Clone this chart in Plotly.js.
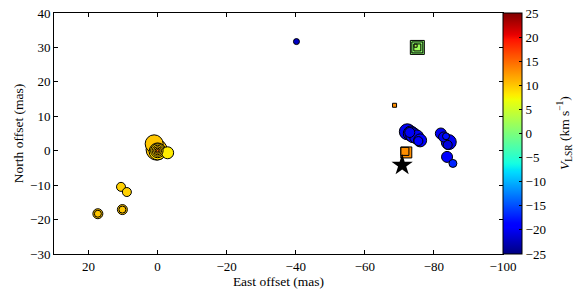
<!DOCTYPE html>
<html><head><meta charset="utf-8">
<script src="https://cdn.plot.ly/plotly-3.0.1.min.js"></script>
<style>html,body{margin:0;padding:0;background:#fff}#plot{width:577px;height:295px}</style>
</head><body><div id="plot"></div>
<script>
// Circle spots: east offset, north offset (mas), velocity (km/s), marker size
const circX = [1.0, 0.3, 0.0, 0.0, 0.0, 0.0, 0.0, -2.9,
  10.6, 8.9, 10.2, 10.2, 17.3, 17.3,
  -72.3, -73.3, -74.0, -75.0, -76.0, -73.0, -75.5,
  -84.3, -82.0, -82.8, -83.8, -84.0, -85.5, -83.5,
  -40.2, 0.0];
const circY = [2.0, 0.3, -0.2, 0.0, 0.0, 0.0, 0.0, -0.6,
  -10.5, -12.0, -17.1, -17.1, -18.3, -18.3,
  5.5, 5.0, 4.5, 4.0, 3.0, 5.3, 2.8,
  2.5, 5.0, 4.0, -1.8, 1.7, -3.7, 4.2,
  31.7, 0.0];
const circV = [10, 10, 9, 9, 10, 10, 11, 8,
  9.5, 9.5, 10, 10, 10, 10,
  -20, -21, -20, -20, -19, -20, -19,
  -20, -20, -20, -19, -21, -17, -18,
  -22, 15];
const circS = [18, 21, 17, 14, 11, 8, 5, 12,
  9, 9, 10, 7, 10, 7,
  16, 15, 15, 14, 13, 10, 9,
  15, 11, 10, 11, 9, 8, 7,
  6, 2.5];

// Square spots
const sqX = [-75.2, -75.2, -75.2, -74.7, -72.0, -71.6, -68.6];
const sqY = [30.0, 30.0, 30.0, 30.5, -0.5, -0.2, 13.2];
const sqV = [1, 1, 2, 3, 13, 13, 13];
const sqS = [14, 11, 7, 3, 11, 8, 4];

// Star (central source)
const starX = [-70.8];
const starY = [-4.2];

const xTicks = [20, 0, -20, -40, -60, -80, -100];
const yTicks = [-30, -20, -10, 0, 10, 20, 30, 40];
const cbTicks = [-25, -20, -15, -10, -5, 0, 5, 10, 15, 20, 25];

// matplotlib 'jet' colormap segment data
function seg(pts, t){
  for(let i=1;i<pts.length;i++){
    if(t<=pts[i][0]){const a=pts[i-1],b=pts[i];return a[1]+(b[1]-a[1])*(t-a[0])/(b[0]-a[0]);}
  }
  return pts[pts.length-1][1];
}
const R=[[0,0],[0.35,0],[0.66,1],[0.89,1],[1,0.5]];
const G=[[0,0],[0.125,0],[0.375,1],[0.64,1],[0.91,0],[1,0]];
const B=[[0,0.5],[0.11,1],[0.34,1],[0.65,0],[1,0]];
const jet=[];
for(let i=0;i<=100;i++){const t=i/100;
  jet.push([t,`rgb(${Math.round(255*seg(R,t))},${Math.round(255*seg(G,t))},${Math.round(255*seg(B,t))})`]);}

function order(s){return s.map((v,i)=>i).sort((a,b)=>s[b]-s[a]);}
const co=order(circS);
const FONT='Liberation Serif';
const traces=[
 {type:'scatter',mode:'markers',x:co.map(i=>circX[i]),y:co.map(i=>circY[i]),
  marker:{symbol:'circle',size:co.map(i=>circS[i]),color:co.map(i=>circV[i]),opacity:1,
    colorscale:jet,cmin:-25,cmax:25,line:{color:'black',width:1},
    colorbar:{x:1,xanchor:'left',xpad:0,y:0.5,yanchor:'middle',ypad:0,len:1,lenmode:'fraction',
      thickness:19,outlinecolor:'black',outlinewidth:1,tickvals:cbTicks,ticks:'inside',ticklen:3,
      tickcolor:'black',tickfont:{family:FONT,size:13,color:'black'}}},
  showlegend:false,hoverinfo:'skip'},
 {type:'scatter',mode:'markers',x:sqX,y:sqY,
  marker:{symbol:'square',size:sqS,color:sqV,colorscale:jet,cmin:-25,cmax:25,opacity:1,
    line:{color:'black',width:1},showscale:false},showlegend:false,hoverinfo:'skip'},
 {type:'scatter',mode:'markers',x:starX,y:starY,
  marker:{symbol:'star',size:16,color:'black',opacity:1},showlegend:false,hoverinfo:'skip'}
];
const axBase={showgrid:false,zeroline:false,showline:true,linecolor:'black',linewidth:1,
  mirror:'ticks',ticks:'inside',ticklen:4,tickcolor:'black',
  tickfont:{family:FONT,size:13,color:'black'}};
const layout={
 width:577,height:295,paper_bgcolor:'white',plot_bgcolor:'white',
 margin:{l:54,r:74,t:13,b:41},
 font:{family:FONT,size:13,color:'black'},
 xaxis:Object.assign({},axBase,{range:[30,-100],tickvals:xTicks,
   title:{text:'East offset (mas)',font:{family:FONT,size:13.5},standoff:2}}),
 yaxis:Object.assign({},axBase,{range:[-30,40],tickvals:yTicks,
   title:{text:'North offset (mas)',font:{family:FONT,size:13.5},standoff:3}}),
 annotations:[{xref:'paper',yref:'paper',x:1.137,y:0.5,xanchor:'center',yanchor:'middle',
   textangle:-90,showarrow:false,text:'<i>V</i><sub>LSR</sub> (km s<sup>−1</sup>)',
   font:{family:FONT,size:13.5,color:'black'}}]
};
Plotly.newPlot('plot',traces,layout,{staticPlot:true});
</script></body></html>
